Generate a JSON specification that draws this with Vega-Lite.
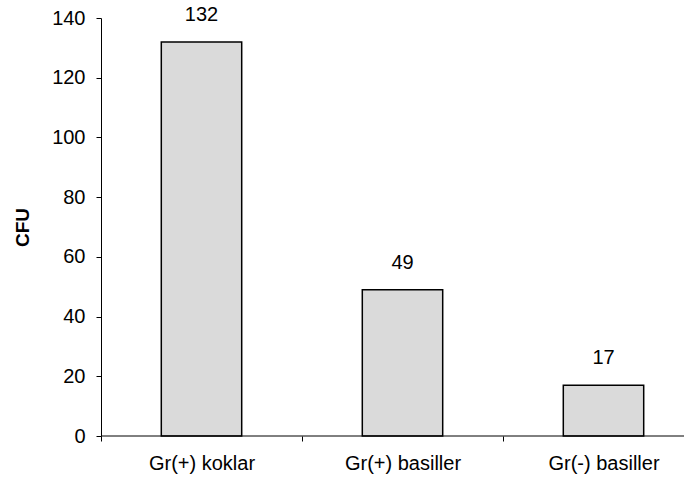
{
  "$schema": "https://vega.github.io/schema/vega-lite/v6.json",
  "width": 583,
  "height": 418,
  "autosize": {"type": "none"},
  "padding": {"left": 101, "top": 18, "right": 10, "bottom": 45},
  "background": "white",
  "config": {"view": {"stroke": null}, "font": "Liberation Sans"},
  "data": {"values": [
    {"group": "Gr(+) koklar", "cfu": 132},
    {"group": "Gr(+) basiller", "cfu": 49},
    {"group": "Gr(-) basiller", "cfu": 17}
  ]},
  "layer": [
    {
      "mark": {"type": "bar", "fill": "#dadada", "stroke": "black", "strokeWidth": 1.5, "width": {"band": 0.4}},
      "encoding": {
        "x": {
          "field": "group", "type": "nominal", "sort": null,
          "scale": {"range": [0, 603], "paddingInner": 0, "paddingOuter": 0},
          "axis": {"title": null, "labelAngle": 0, "labelFontSize": 20, "labelColor": "black", "tickSize": 5, "tickColor": "black", "tickBand": "extent", "domain": false, "grid": false, "labelPadding": 12}
        },
        "y": {
          "field": "cfu", "type": "quantitative",
          "scale": {"domain": [0, 140], "nice": false},
          "axis": {"values": [0, 20, 40, 60, 80, 100, 120, 140], "grid": false, "domainColor": "black", "tickColor": "black", "labelColor": "black", "labelFontSize": 20, "tickSize": 5, "labelPadding": 11, "title": "CFU", "titleFontSize": 19, "titleFontWeight": "bold", "titleColor": "black", "titlePadding": 19}
        }
      }
    },
    {
      "mark": {"type": "text", "dy": -27, "fontSize": 20, "baseline": "middle", "color": "black"},
      "encoding": {
        "x": {"field": "group", "type": "nominal", "sort": null},
        "y": {"field": "cfu", "type": "quantitative"},
        "text": {"field": "cfu", "type": "quantitative"}
      }
    },
    {
      "data": {"values": [{}]},
      "mark": {"type": "rule", "color": "black", "strokeWidth": 1},
      "encoding": {"y": {"datum": 0}}
    }
  ]
}
